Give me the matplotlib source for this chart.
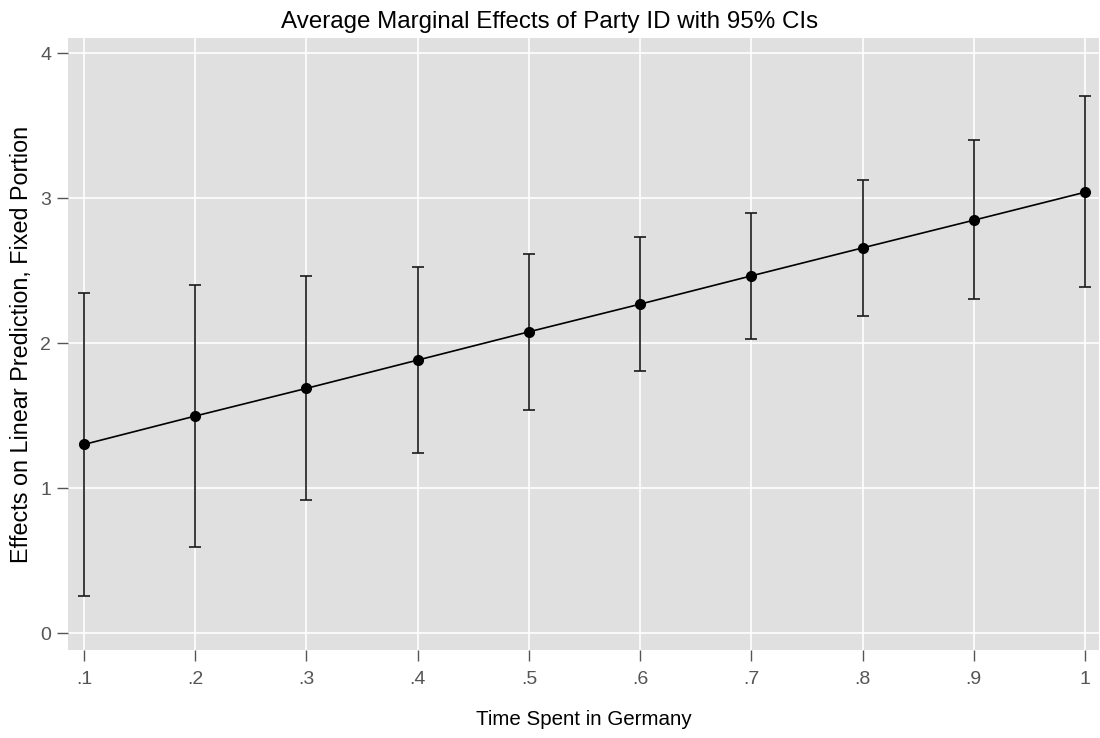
import matplotlib
matplotlib.use("Agg")
import matplotlib.pyplot as plt

plt.rcParams['font.family'] = ['Liberation Sans', 'DejaVu Sans']

x_vals = [0.1, 0.2, 0.3, 0.4, 0.5, 0.6, 0.7, 0.8, 0.9, 1.0]
effects = [1.301, 1.497, 1.688, 1.883, 2.078, 2.269, 2.464, 2.657, 2.848, 3.041]
ci_upper = [2.347, 2.400, 2.462, 2.526, 2.614, 2.733, 2.901, 3.124, 3.400, 3.703]
ci_lower = [0.255, 0.591, 0.919, 1.239, 1.538, 1.807, 2.026, 2.186, 2.301, 2.384]
x_tick_labels = ['.1', '.2', '.3', '.4', '.5', '.6', '.7', '.8', '.9', '1']
y_ticks = [0, 1, 2, 3, 4]

fig = plt.figure(figsize=(11, 7.38), dpi=100)
ax = fig.add_axes([68/1100, 1-650/738, (1099-68)/1100, (650-38)/738])
ax.set_facecolor('#e0e0e0')

yerr = [[e - l for e, l in zip(effects, ci_lower)], [u - e for e, u in zip(effects, ci_upper)]]
ax.errorbar(x_vals, effects, yerr=yerr, fmt='none', ecolor='#1a1a1a', elinewidth=1.2,
            capsize=4.5, capthick=1.2, zorder=3)
ax.plot(x_vals, effects, color='black', linewidth=1.2, marker='o', markersize=7, zorder=4)

ax.set_xlim(0.0856, 1.0126)
ax.set_ylim(-0.117, 4.105)
ax.set_xticks(x_vals)
ax.set_xticklabels(x_tick_labels)
ax.set_yticks(y_ticks)
ax.grid(True, color='white', linewidth=1.2)
ax.set_axisbelow(True)
for s in ax.spines.values():
    s.set_visible(False)
ax.tick_params(axis='both', colors='#555555', labelsize=14, length=8, width=1, direction='out')
ax.tick_params(axis='x', pad=7)
ax.tick_params(axis='y', pad=4)

ax.set_xlabel('Time Spent in Germany', fontsize=14.8, labelpad=16)
ax.set_ylabel('Effects on Linear Prediction, Fixed Portion', fontsize=16.8, labelpad=5)
fig.text(0.5, 1-22/738, 'Average Marginal Effects of Party ID with 95% CIs', ha='center', va='center', fontsize=17.4)

fig.savefig('out.png', dpi=100)
